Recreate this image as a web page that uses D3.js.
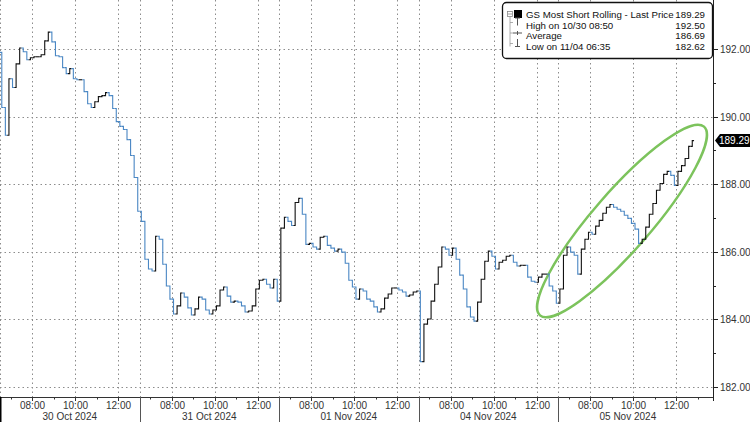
<!DOCTYPE html>
<html><head><meta charset="utf-8">
<script src="https://cdn.jsdelivr.net/npm/d3@7"></script>
<style>
html,body{margin:0;padding:0;background:#fff;}
svg{display:block;font-family:"Liberation Sans",Arial,sans-serif;}
</style></head>
<body><svg id="c" width="750" height="422"></svg>
<script>
// ---- data ----
const dayLabels = ["30 Oct 2024","31 Oct 2024","01 Nov 2024","04 Nov 2024","05 Nov 2024"];
const timeTicks = ["08:00","10:00","12:00"];      // major ticks (minutes after 06:30: 90,210,330)
const minorTicks = ["07:00","09:00","11:00"];
const yTicks = [182,184,186,188,190,192];
const yMinor = [183,185,187,189,191];
const firstOpen = 191.90;
// 10-minute bar closes, session 06:30-13:00
const close30Oct = [190.27,189.45,191.12,190.86,191.56,192.03,191.92,191.68,191.74,191.77,191.77,191.83,192.24,192.50,
  192.21,191.80,191.77,191.45,191.27,191.42,191.12,191.09,191.09,190.74,190.38,190.27,190.44,190.59,190.62,190.71,
  190.62,190.24,189.85,189.71,189.62,189.32,188.85,188.20,187.20];
const close31Oct = [186.90,185.78,185.49,185.43,186.46,186.37,185.63,184.99,184.60,184.16,184.40,184.78,184.66,184.34,
  184.13,184.31,184.66,184.60,184.28,184.16,184.28,184.40,184.87,184.96,184.69,184.51,184.54,184.51,184.40,184.22,
  184.25,184.40,184.90,185.16,185.19,185.04,184.93,185.19,184.54];
const close01Nov = [186.70,187.02,186.90,186.78,187.46,187.58,187.11,186.22,186.25,186.14,186.08,186.43,186.46,186.19,
  186.11,186.02,186.08,185.99,185.66,185.16,184.96,184.60,184.90,184.84,184.60,184.54,184.37,184.22,184.31,184.63,
  184.75,184.93,184.93,184.87,184.81,184.69,184.72,184.81,184.84];
const close04Nov = [182.75,183.86,184.01,184.54,185.04,185.55,186.14,186.08,185.90,186.11,185.78,185.31,184.90,184.37,
  184.07,183.95,184.51,185.19,185.72,186.02,185.87,185.49,185.69,185.75,185.87,185.90,185.69,185.58,185.60,185.60,
  185.25,185.13,185.10,185.25,185.34,185.34,184.99,184.84,184.48];
const close05Nov = [184.90,185.90,186.14,185.99,185.90,185.34,186.08,186.37,186.58,186.52,186.76,186.93,187.14,187.32,
  187.40,187.32,187.26,187.20,187.08,186.99,186.84,186.67,186.25,186.37,186.73,187.11,187.43,187.82,188.02,188.29,
  188.38,188.26,187.96,188.38,188.55,188.76,189.12,189.29];
const legendNames = ["GS Most Short Rolling - Last Price","High on 10/30 08:50","Average","Low on 11/04 06:35"];
const legendValues = ["189.29","192.50","186.69","182.62"];
const lastPrice = 189.29;

// ---- layout ----
const W = 750, H = 422, plotR = 713, axisY = 397;
const sessionMin = 390, barMin = 10;
const svg = d3.select("#c");
const x = d3.scaleLinear().domain([0, 4*sessionMin + 433]).range([0, plotR]);
const y = d3.scaleLinear().domain([182, 192]).range([387, 49]);
const hhmm = s => { const [h,m] = s.split(":").map(Number); return (h*60+m) - 390; };

const allDays = [close30Oct, close31Oct, close01Nov, close04Nov, close05Nov];
const bars = [];
let prev = firstOpen;
allDays.forEach((arr, d) => arr.forEach((c, i) => {
  bars.push({t: d*sessionMin + i*barMin + barMin/2, o: prev, c});
  prev = c;
}));

// grid
const grid = svg.append("g").attr("stroke","#8c8c8c").attr("stroke-width",1).attr("stroke-dasharray","1.5,3");
yTicks.forEach(v => grid.append("line").attr("x1",0).attr("x2",plotR).attr("y1",Math.round(y(v))+0.5).attr("y2",Math.round(y(v))+0.5));
dayLabels.forEach((lab, d) => {
  const xs = [d*sessionMin, ...timeTicks.map(t => d*sessionMin + hhmm(t))];
  xs.forEach(t => grid.append("line").attr("x1",Math.round(x(t))+0.5).attr("x2",Math.round(x(t))+0.5).attr("y1",0).attr("y2",axisY));
});

// ellipse highlight
svg.append("ellipse").attr("cx",622).attr("cy",221).attr("rx",125).attr("ry",29)
  .attr("transform","rotate(-49,622,221)")
  .attr("fill","none").attr("stroke","#7cc35c").attr("stroke-width",2.5);

// bars
const bw = x(barMin) - x(0);
svg.append("g").selectAll("path").data(bars).join("path")
  .attr("d", b => { const cx = x(b.t); return `M${cx-bw/2},${y(b.o)}H${cx}V${y(b.c)}H${cx+bw/2}`; })
  .attr("fill","none").attr("stroke-width",1.1)
  .attr("stroke", b => b.c >= b.o ? "#111" : "#4a87c4");

// axes lines
svg.append("line").attr("x1",0).attr("x2",plotR).attr("y1",axisY+0.5).attr("y2",axisY+0.5).attr("stroke","#333");
svg.append("line").attr("x1",plotR+0.5).attr("x2",plotR+0.5).attr("y1",0).attr("y2",axisY+4).attr("stroke","#222");

// x axis ticks & labels
const xa = svg.append("g").attr("font-size",10).attr("fill","#333");
dayLabels.forEach((lab, d) => {
  const b = d*sessionMin;
  xa.append("line").attr("x1",Math.round(x(b))+0.5).attr("x2",Math.round(x(b))+0.5).attr("y1",axisY).attr("y2",H)
    .attr("stroke", d===0 ? "#000" : "#555").attr("stroke-width", d===0 ? 2 : 1);
  timeTicks.forEach(t => {
    const px = Math.round(x(b + hhmm(t)))+0.5;
    xa.append("line").attr("x1",px).attr("x2",px).attr("y1",axisY).attr("y2",axisY+4).attr("stroke","#333");
    xa.append("text").attr("x",px).attr("y",409).attr("text-anchor","middle").text(t);
  });
  const mins = minorTicks.map(hhmm); if (d===4) mins.push(sessionMin);
  mins.forEach(m => { const px = Math.round(x(b+m))+0.5;
    xa.append("line").attr("x1",px).attr("x2",px).attr("y1",axisY).attr("y2",axisY+2.5).attr("stroke","#333"); });
  xa.append("text").attr("x",x(b + sessionMin/2)).attr("y",419.5).attr("text-anchor","middle").text(lab);
});

// y axis
const ya = svg.append("g").attr("font-size",10).attr("fill","#333");
yTicks.forEach(v => {
  const py = Math.round(y(v))+0.5;
  ya.append("line").attr("x1",plotR).attr("x2",plotR+5).attr("y1",py).attr("y2",py).attr("stroke","#222");
  ya.append("text").attr("x",720).attr("y",py+3.5).text(v.toFixed(2));
});
yMinor.forEach(v => { const py = Math.round(y(v))+0.5;
  ya.append("line").attr("x1",plotR).attr("x2",plotR+3).attr("y1",py).attr("y2",py).attr("stroke","#222"); });

// last price tag
const ly = y(lastPrice);
svg.append("path").attr("d",`M${plotR+2},${ly}L${plotR+7},${ly-6.5}H${W}V${ly+6.5}H${plotR+7}Z`).attr("fill","#000");
svg.append("text").attr("x",719).attr("y",ly+3.6).attr("font-size",10).attr("fill","#fff").text(lastPrice.toFixed(2));

// legend
const lg = svg.append("g");
lg.append("rect").attr("x",502.5).attr("y",2.5).attr("width",210).attr("height",56).attr("rx",4)
  .attr("fill","#fff").attr("stroke","#111").attr("stroke-width",1.3);
const rowY = [15, 25.5, 36, 46.5];
// tree lines
lg.append("rect").attr("x",507.5).attr("y",11.5).attr("width",5).attr("height",5).attr("fill","none").attr("stroke","#888").attr("stroke-width",0.8);
lg.append("line").attr("x1",508).attr("x2",512).attr("y1",14).attr("y2",14).attr("stroke","#888").attr("stroke-width",0.8);
lg.append("line").attr("x1",510).attr("x2",510).attr("y1",17).attr("y2",rowY[3]).attr("stroke","#999").attr("stroke-width",0.8);
rowY.slice(1).forEach(r => lg.append("line").attr("x1",510).attr("x2",513).attr("y1",r-3).attr("y2",r-3).attr("stroke","#999").attr("stroke-width",0.8));
lg.append("rect").attr("x",514).attr("y",10).attr("width",8).attr("height",8).attr("fill","#000");
// high icon
lg.append("path").attr("d",`M515,${rowY[1]-7.5}H520M517.5,${rowY[1]-7.5}V${rowY[1]}`).attr("stroke","#555").attr("fill","none");
// avg icon
lg.append("path").attr("d",`M513,${rowY[2]-3}H522M517.5,${rowY[2]-5}V${rowY[2]-1}`).attr("stroke","#555").attr("fill","none");
// low icon
lg.append("path").attr("d",`M517.5,${rowY[3]-7.5}V${rowY[3]}M515,${rowY[3]}H520`).attr("stroke","#555").attr("fill","none");
legendNames.forEach((n,i) => {
  lg.append("text").attr("x",526).attr("y",rowY[i]+3).attr("font-size",9.7).attr("fill","#111").text(n);
  lg.append("text").attr("x",705).attr("y",rowY[i]+3).attr("font-size",9.7).attr("fill","#111").attr("text-anchor","end").text(legendValues[i]);
});
</script></body></html>
